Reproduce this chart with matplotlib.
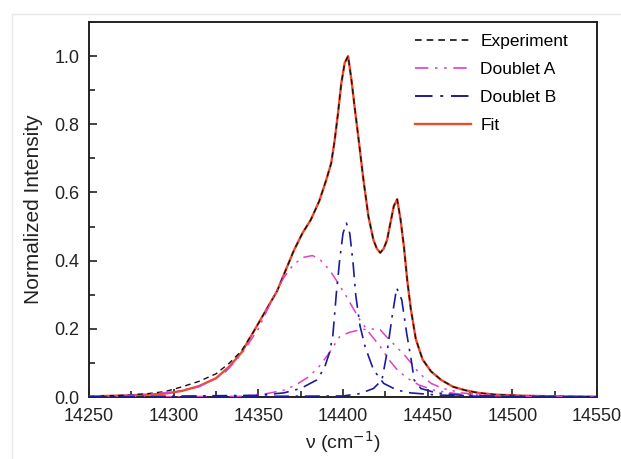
import matplotlib
matplotlib.use("Agg")
import matplotlib.pyplot as plt
from matplotlib.lines import Line2D
from matplotlib.ticker import MultipleLocator

plt.rcParams['font.family'] = ['Liberation Sans', 'DejaVu Sans']

# ---- data ----
x_fit = [14250, 14270, 14285, 14295, 14305, 14315, 14325, 14333, 14340, 14347,
         14354, 14361, 14366, 14371, 14376, 14381, 14386, 14390, 14393, 14395,
         14397, 14399, 14401, 14403, 14405, 14407, 14409, 14412, 14415, 14418,
         14420, 14422, 14424, 14426, 14428, 14430, 14432, 14434, 14436, 14438,
         14440, 14443, 14447, 14452, 14458, 14465, 14472, 14480, 14490, 14505,
         14525, 14550]
y_fit = [0.002, 0.004, 0.007, 0.010, 0.018, 0.032, 0.055, 0.090, 0.130, 0.190,
         0.250, 0.310, 0.370, 0.430, 0.480, 0.520, 0.575, 0.635, 0.685, 0.750,
         0.830, 0.920, 0.980, 1.000, 0.930, 0.845, 0.765, 0.640, 0.530, 0.460,
         0.435, 0.423, 0.435, 0.460, 0.510, 0.560, 0.580, 0.520, 0.440, 0.340,
         0.260, 0.170, 0.110, 0.075, 0.050, 0.030, 0.020, 0.012, 0.007, 0.004,
         0.002, 0.001]
y_exp = [0.002, 0.005, 0.010, 0.016, 0.030, 0.046, 0.068, 0.100, 0.135, 0.190,
         0.250, 0.310, 0.370, 0.430, 0.480, 0.520, 0.575, 0.635, 0.685, 0.750,
         0.830, 0.920, 0.980, 1.000, 0.930, 0.845, 0.765, 0.640, 0.530, 0.460,
         0.435, 0.423, 0.435, 0.460, 0.510, 0.560, 0.580, 0.520, 0.440, 0.340,
         0.260, 0.170, 0.110, 0.075, 0.050, 0.030, 0.020, 0.012, 0.007, 0.004,
         0.002, 0.001]

x_a1 = [14250, 14280, 14300, 14315, 14330, 14340, 14350, 14359, 14365, 14371,
        14377, 14382, 14387, 14392, 14397, 14402, 14406, 14410, 14416, 14422,
        14427, 14432, 14438, 14445, 14455, 14470, 14500, 14550]
y_a1 = [0.002, 0.006, 0.015, 0.030, 0.070, 0.125, 0.200, 0.295, 0.350, 0.390,
        0.410, 0.415, 0.400, 0.373, 0.335, 0.295, 0.260, 0.226, 0.185, 0.148,
        0.110, 0.080, 0.055, 0.035, 0.018, 0.008, 0.002, 0.000]

x_a2 = [14250, 14340, 14355, 14365, 14372, 14380, 14386, 14392, 14398, 14404,
        14410, 14416, 14422, 14426, 14431, 14436, 14441, 14445, 14452, 14459,
        14470, 14490, 14550]
y_a2 = [0.000, 0.002, 0.010, 0.020, 0.035, 0.060, 0.090, 0.130, 0.177, 0.190,
        0.197, 0.200, 0.197, 0.175, 0.150, 0.125, 0.095, 0.070, 0.040, 0.025,
        0.012, 0.004, 0.000]

x_b1 = [14250, 14350, 14365, 14375, 14384.5, 14389, 14392, 14394, 14396, 14398,
        14400, 14402, 14404, 14406, 14407.5, 14410, 14413, 14418, 14424, 14432,
        14440, 14455, 14480, 14550]
y_b1 = [0.000, 0.005, 0.012, 0.025, 0.050, 0.085, 0.130, 0.180, 0.300, 0.400,
        0.480, 0.510, 0.480, 0.390, 0.300, 0.210, 0.148, 0.080, 0.040, 0.020,
        0.012, 0.006, 0.002, 0.000]

x_b2 = [14250, 14400, 14410, 14418, 14423, 14426, 14429, 14431.7, 14434.7, 14437.6,
        14440.6, 14442, 14446, 14455, 14470, 14500, 14550]
y_b2 = [0.000, 0.003, 0.010, 0.025, 0.050, 0.130, 0.236, 0.320, 0.285, 0.187,
        0.099, 0.050, 0.025, 0.012, 0.005, 0.001, 0.000]

labels = ["Experiment", "Doublet A", "Doublet B", "Fit"]
x_ticks = [14250, 14300, 14350, 14400, 14450, 14500, 14550]
y_ticks = [0.0, 0.2, 0.4, 0.6, 0.8, 1.0]

# ---- styles ----
c_fit = '#ee4a2a'
c_exp = '#111111'
c_a = '#e040c8'
c_b = '#1c1c9c'
ls_exp = (0, (4, 3))
ls_a = (0, (8, 4, 1.5, 4, 1.5, 4))
ls_b = (0, (9, 4, 1.5, 4))

fig = plt.figure(figsize=(6.21, 4.59), dpi=100)
ax = fig.add_axes([89/621, 1-397/459, (597-89)/621, (397-22)/459])

ax.plot(x_fit, y_fit, color=c_fit, lw=1.7, ls='-', zorder=2)
ax.plot(x_fit, y_exp, color=c_exp, lw=1.0, ls=ls_exp, zorder=3)
ax.plot(x_a1, y_a1, color=c_a, lw=1.1, ls=ls_a, zorder=4)
ax.plot(x_a2, y_a2, color=c_a, lw=1.1, ls=ls_a, zorder=4)
ax.plot(x_b1, y_b1, color=c_b, lw=1.2, ls=ls_b, zorder=5)
ax.plot(x_b2, y_b2, color=c_b, lw=1.2, ls=ls_b, zorder=5)

ax.set_xlim(x_ticks[0], x_ticks[-1])
ax.set_ylim(0, 1.1)
ax.set_xticks(x_ticks)
ax.set_yticks(y_ticks)
ax.set_yticklabels([f"{v:.1f}" for v in y_ticks])
ax.xaxis.set_minor_locator(MultipleLocator(25))
ax.yaxis.set_minor_locator(MultipleLocator(0.1))
ax.tick_params(which='both', direction='in', top=False, right=False,
               labelsize=13, colors='#222222', width=1.2)
ax.tick_params(which='major', length=6, pad=7)
ax.tick_params(which='minor', length=4)
ax.tick_params(axis='x', which='major', pad=8)
for s in ax.spines.values():
    s.set_linewidth(1.4)
    s.set_color('#222222')

ax.set_ylabel("Normalized Intensity", fontsize=15, color='#222222', labelpad=8)
ax.set_xlabel("ν (cm$^{-1}$)", fontsize=14, color='#222222', labelpad=3)

handles = [Line2D([], [], color=c_exp, lw=1.2, ls=ls_exp),
           Line2D([], [], color=c_a, lw=1.2, ls=ls_a),
           Line2D([], [], color=c_b, lw=1.4, ls=ls_b),
           Line2D([], [], color=c_fit, lw=1.7, ls='-')]
ax.legend(handles, labels, loc='upper left', bbox_to_anchor=(0.642, 0.969),
          frameon=False, fontsize=12.5, handlelength=3.2, handletextpad=0.55,
          labelspacing=0.75, borderpad=0, borderaxespad=0)

# faint outer frame of the screenshot
fig.add_artist(Line2D([12/621, 1], [1-14/459, 1-14/459], transform=fig.transFigure,
                      color='#e8e8e8', lw=1))
fig.add_artist(Line2D([12/621, 12/621], [0, 1-14/459], transform=fig.transFigure,
                      color='#e8e8e8', lw=1))

fig.savefig("out.png", dpi=100)
